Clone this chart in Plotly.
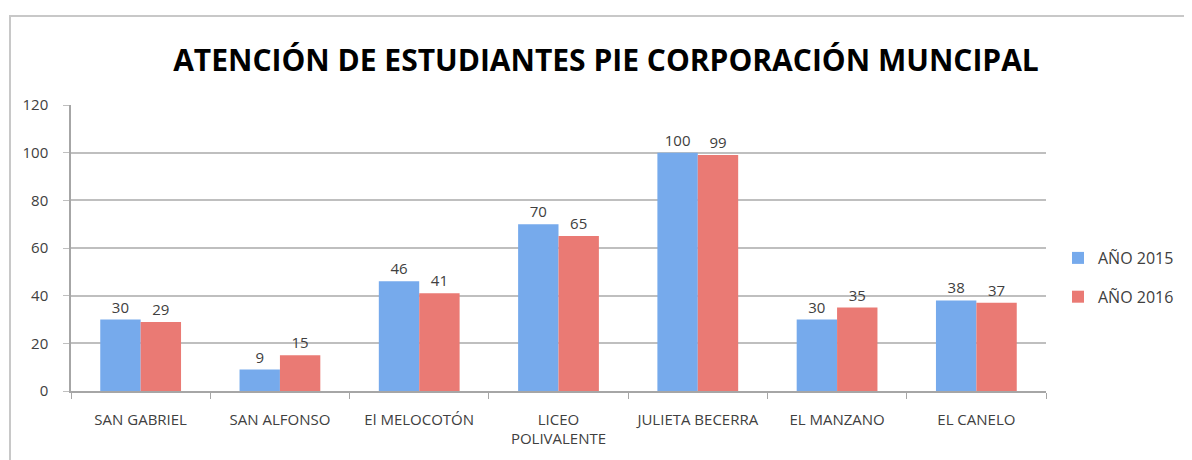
import plotly.graph_objects as go

categories = ["SAN GABRIEL", "SAN ALFONSO", "El MELOCOTÓN", "LICEO<br>POLIVALENTE",
              "JULIETA BECERRA", "EL MANZANO", "EL CANELO"]
values_2015 = [30, 9, 46, 70, 100, 30, 38]
values_2016 = [29, 15, 41, 65, 99, 35, 37]
series_names = ["AÑO 2015", "AÑO 2016"]
y_ticks = [0, 20, 40, 60, 80, 100, 120]

FONT = "Open Sans"
TXT = "#404040"

fig = go.Figure()
fig.add_trace(go.Bar(x=categories, y=values_2015, name=series_names[0], legendgroup="a",
                     marker=dict(color="#76AAEC", line=dict(width=0)),
                     text=values_2015, textposition="outside", cliponaxis=False,
                     textfont=dict(family=FONT, size=15, color=TXT)))
fig.add_trace(go.Bar(x=categories, y=values_2016, name=series_names[1], legendgroup="b",
                     marker=dict(color="#EA7A74", line=dict(width=0)),
                     text=values_2016, textposition="outside", cliponaxis=False,
                     textfont=dict(family=FONT, size=15, color=TXT)))

OFF = 8  # page body margin offset
W, H = 1192 - OFF, 460 - OFF
# target plot area in screenshot pixels: x 71..1046, y 105..394
L, T = 71 - OFF, 105 - OFF
R = W - (1046 - OFF)
B = H - (394 - OFF)
pw, ph = W - L - R, H - T - B

def px(x):  # screenshot x -> paper
    return (x - OFF - L) / pw

def py(y):  # screenshot y -> paper
    return (H - B - (y - OFF)) / ph

fig.update_layout(
    width=W, height=H,
    margin=dict(l=L, r=R, t=T, b=B),
    paper_bgcolor="white", plot_bgcolor="white",
    barmode="group", bargap=0.42, bargroupgap=0,
    title=dict(text="<b>ATENCIÓN DE ESTUDIANTES PIE CORPORACIÓN MUNCIPAL</b>",
               x=(606 - OFF) / W, xanchor="center", y=1 - (60 - OFF) / H, yanchor="middle",
               font=dict(family=FONT, size=30, color="black")),
    font=dict(family=FONT, size=15, color=TXT),
    legend=dict(xref="container", yref="container",
                x=(1058 - OFF) / W, xanchor="left", y=1 - (241 - OFF) / H, yanchor="top",
                font=dict(family=FONT, size=16, color=TXT),
                itemwidth=30, traceorder="grouped", tracegroupgap=15,
                bgcolor="rgba(0,0,0,0)"),
    xaxis=dict(showline=True, linecolor="#A6A6A6", linewidth=1.5,
               ticks="outside", tickson="boundaries", ticklen=6, tickcolor="#A6A6A6",
               ticklabelstandoff=14,
               tickfont=dict(family=FONT, size=15, color=TXT), showgrid=False),
    yaxis=dict(range=[0, 120], tickvals=y_ticks, showline=True, linecolor="#A6A6A6",
               linewidth=1.5, ticks="outside", ticklen=6, tickcolor="#BFBFBF",
               ticklabelstandoff=12,
               gridcolor="#BFBFBF", gridwidth=1.5, zeroline=False,
               tickfont=dict(family=FONT, size=15, color=TXT)),
    shapes=[dict(type="rect", xref="paper", yref="paper",
                 x0=px(10), x1=px(1190), y0=py(475), y1=py(15),
                 line=dict(color="#C8C8C8", width=2), layer="below")],
)

fig.write_html("out.html")
